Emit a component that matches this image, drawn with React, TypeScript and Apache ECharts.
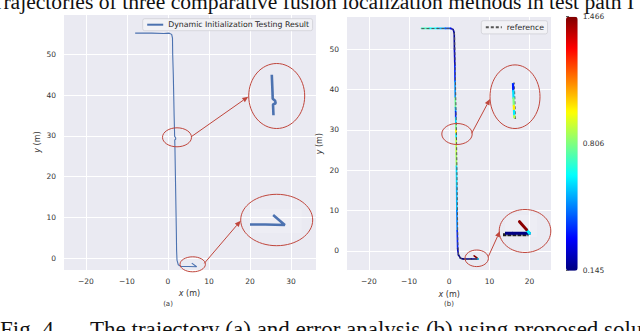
import React, { useEffect, useRef } from "react";
import * as echarts from "echarts";

// ---- data ----
// (a) dynamic initialization trajectory [x, y] in metres
const trajA: number[][] = [
  [-8.0, 55.2], [-4.0, 55.2], [-1.0, 55.1], [0.3, 55.2], [0.9, 54.9], [1.1, 54.0],
  [1.15, 50.0], [1.3, 45.0], [1.4, 40.0], [1.5, 35.0], [1.6, 31.0], [1.62, 29.9],
  [1.85, 29.6], [1.9, 29.2], [1.65, 29.0], [1.7, 27.0], [1.75, 24.0], [1.85, 18.0],
  [1.95, 12.0], [2.05, 6.0], [2.1, 2.0], [2.2, -0.5], [2.5, -1.6], [3.2, -2.05],
  [5.0, -2.05], [7.0, -2.1], [5.8, -1.2],
];
// (b) estimated trajectory [x, y, error]
const estB: number[][] = [
  [-6.9, 55.1, 0.72], [-5.0, 55.1, 0.65], [-3.0, 55.1, 0.55], [-1.0, 55.1, 0.42],
  [0.4, 55.1, 0.3], [1.0, 54.8, 0.2], [1.25, 54.0, 0.18], [1.3, 50.0, 0.25],
  [1.4, 46.0, 0.35], [1.45, 42.0, 0.5], [1.5, 38.0, 0.78], [1.55, 35.5, 0.55],
  [1.6, 34.5, 0.35], [1.62, 33.0, 0.6], [1.65, 31.5, 0.8], [1.68, 30.0, 0.99],
  [1.7, 29.0, 0.62], [1.72, 28.0, 0.88], [1.75, 24.0, 0.85], [1.8, 21.0, 0.6],
  [1.85, 16.0, 0.55], [1.9, 10.0, 0.48], [2.0, 5.0, 0.35], [2.1, 0.5, 0.22],
  [2.3, -1.0, 0.15], [2.8, -1.8, 0.15], [3.5, -2.0, 0.15], [5.5, -2.0, 0.15],
  [7.2, -2.0, 0.62], [6.9, -1.75, 1.45], [6.2, -1.2, 1.45],
];
// (b) reference trajectory [x, y]
const refB: number[][] = [
  [-6.9, 55.05], [0.6, 55.1], [1.1, 54.7], [1.35, 53.5], [1.45, 48.0], [1.6, 40.0],
  [1.75, 32.0], [1.85, 26.0], [1.95, 18.0], [2.05, 10.0], [2.15, 2.0], [2.3, -0.8],
  [2.8, -1.85], [3.5, -2.1], [7.1, -2.1],
];
const errMin = 0.145;
const errMax = 1.466;
const colorbarTicks = [0.145, 0.806, 1.466];
const jet = ["#00007f", "#0000ff", "#007fff", "#00ffff", "#7fff7f", "#ffff00", "#ff7f00", "#ff0000", "#7f0000"];

const captionTop = "Trajectories of three comparative fusion localization methods in test path I";
const captionFig = "Fig. 4.";
const captionBody = "The trajectory (a) and error analysis (b) using proposed solution";

// ---- styling ----
const BG = "#eaeaf2";
const RED = "#c0463c";
const TXT = "#333";
const FONT = "DejaVu Sans";
const SERIF = "Liberation Serif";
const minus = (v: number) => String(v).replace("-", "\u2212");

const mainAxis = (gi: number, min: number, max: number, isX: boolean, nameGap: number, margin: number) => ({
  gridIndex: gi,
  type: "value",
  min,
  max,
  minInterval: 10,
  maxInterval: 10,
  axisLine: { show: false },
  axisTick: { show: false },
  splitLine: { show: true, lineStyle: { color: "#ffffff", width: 1 } },
  axisLabel: {
    margin,
    fontSize: 7.5,
    color: TXT,
    fontFamily: FONT,
    showMinLabel: false,
    showMaxLabel: false,
    formatter: minus,
  },
  name: isX ? "{i|x} (m)" : "{i|y} (m)",
  nameLocation: "middle",
  nameGap,
  nameTextStyle: {
    fontSize: 8,
    color: TXT,
    fontFamily: FONT,
    rich: { i: { fontStyle: "italic", fontSize: 8, color: TXT, fontFamily: FONT } },
  },
});

const hiddenAxis = (gi: number, min: number, max: number) => ({
  gridIndex: gi,
  type: "value",
  min,
  max,
  show: false,
  splitLine: { show: false },
});

const segRender = (data: number[][], lw: number) => (params: any, api: any) => {
  const i = params.dataIndex;
  if (i >= data.length - 1) return null;
  const p1 = api.coord([data[i][0], data[i][1]]);
  const p2 = api.coord([data[i + 1][0], data[i + 1][1]]);
  const cs = params.coordSys;
  return {
    type: "line",
    shape: { x1: p1[0], y1: p1[1], x2: p2[0], y2: p2[1] },
    style: { stroke: api.visual("color"), lineWidth: lw, lineCap: "round" },
    clipPath: { type: "rect", shape: { x: cs.x, y: cs.y, width: cs.width, height: cs.height } },
  };
};

function arrow(x1: number, y1: number, x2: number, y2: number) {
  const a = Math.atan2(y2 - y1, x2 - x1);
  const L = 6;
  const w = 2.6;
  const bx = x2 - L * Math.cos(a);
  const by = y2 - L * Math.sin(a);
  const nx = -Math.sin(a);
  const ny = Math.cos(a);
  return [
    { type: "line", z: 100, shape: { x1, y1, x2: bx, y2: by }, style: { stroke: RED, lineWidth: 1 } },
    {
      type: "polygon",
      z: 100,
      shape: { points: [[x2, y2], [bx + nx * w, by + ny * w], [bx - nx * w, by - ny * w]] },
      style: { fill: RED },
    },
  ];
}
const ell = (cx: number, cy: number, rx: number, ry: number) => ({
  type: "ellipse",
  z: 100,
  shape: { cx, cy, rx, ry },
  style: { fill: "none", stroke: RED, lineWidth: 1 },
});
const caption = (text: string, x: number, y: number, size: number) => ({
  type: "text",
  x,
  y,
  style: { text, fontSize: size, fontFamily: SERIF, fill: "#111", verticalAlign: "middle", align: "left" },
});

export default function App() {
  const ref = useRef<HTMLDivElement>(null);
  useEffect(() => {
    if (!ref.current) return;
    const chart = echarts.init(ref.current, null, { renderer: "svg", width: 640, height: 331 });
    const legendCommon = {
      orient: "horizontal",
      itemHeight: 8,
      itemGap: 0,
      backgroundColor: "#f2f2f6",
      borderColor: "#cfcfd6",
      borderWidth: 0.8,
      borderRadius: 2,
      selectedMode: false,
      itemStyle: { opacity: 0 },
      textStyle: { fontSize: 7.8, color: "#262626", fontFamily: FONT },
    };
    const option: any = {
      animation: false,
      backgroundColor: "#ffffff",
      grid: [
        { left: 63, top: 14, width: 253, height: 256, show: true, backgroundColor: BG, borderWidth: 0 },
        { left: 346.7, top: 16.7, width: 205, height: 254, show: true, backgroundColor: BG, borderWidth: 0 },
        { left: 566, top: 16.7, width: 11.7, height: 254, show: false },
        { left: 262, top: 76, width: 21, height: 38, show: false },
        { left: 251.7, top: 209, width: 50, height: 24, show: true, backgroundColor: "#ededf4", borderWidth: 0 },
        { left: 507, top: 83.3, width: 16, height: 35, show: false },
        { left: 505, top: 215, width: 32, height: 22, show: true, backgroundColor: "#ededf4", borderWidth: 0 },
      ],
      xAxis: [
        mainAxis(0, -25.6, 36.1, true, 19, 7),
        mainAxis(1, -25.5, 25.5, true, 19, 7),
        hiddenAxis(2, 0, 1),
        hiddenAxis(3, 0.6, 2.6),
        hiddenAxis(4, 3.6, 8.73),
        hiddenAxis(5, 1.0, 2.6),
        hiddenAxis(6, 4.75, 7.95),
      ],
      yAxis: [
        mainAxis(0, -2.9, 59.9, false, 22, 7),
        mainAxis(1, -4.9, 58, false, 23, 7.7),
        {
          gridIndex: 2,
          type: "value",
          position: "right",
          min: errMin,
          max: errMax,
          axisLine: { show: false },
          splitLine: { show: false },
          axisTick: {
            show: true,
            length: 3,
            customValues: colorbarTicks,
            lineStyle: { color: TXT, width: 0.8 },
          },
          axisLabel: {
            show: true,
            margin: 5,
            fontSize: 7.5,
            color: TXT,
            fontFamily: FONT,
            customValues: colorbarTicks,
            formatter: (v: number) => v.toFixed(3),
          },
        },
        hiddenAxis(3, 27.5, 33.5),
        hiddenAxis(4, -2.82, -0.66),
        hiddenAxis(5, 27.5, 34.5),
        hiddenAxis(6, -2.26, -0.74),
      ],
      visualMap: {
        type: "continuous",
        min: errMin,
        max: errMax,
        dimension: 2,
        seriesIndex: [3, 4, 5],
        inRange: { color: jet },
        left: 566,
        top: 16.7,
        itemWidth: 11.7,
        itemHeight: 254,
        padding: 0,
        calculable: false,
        hoverLink: false,
        orient: "vertical",
      },
      legend: [
        {
          ...legendCommon,
          data: ["Dynamic Initialization Testing Result"],
          left: 142.7,
          top: 18.7,
          padding: [2, 3.5],
          itemWidth: 16,
        },
        {
          ...legendCommon,
          data: ["reference"],
          left: 481.3,
          top: 20.7,
          padding: [2.6, 3.5],
          itemWidth: 16,
        },
      ],
      series: [
        {
          type: "line",
          name: "Dynamic Initialization Testing Result",
          xAxisIndex: 0,
          yAxisIndex: 0,
          data: trajA,
          symbol: "none",
          lineStyle: { color: "#4c72b0", width: 1.1 },
          itemStyle: { color: "#4c72b0" },
          z: 3,
        },
        {
          type: "line",
          name: "a-inset-top",
          xAxisIndex: 3,
          yAxisIndex: 3,
          data: trajA,
          symbol: "none",
          clip: true,
          lineStyle: { color: "#4c72b0", width: 2.6 },
          z: 3,
        },
        {
          type: "line",
          name: "a-inset-bottom",
          xAxisIndex: 4,
          yAxisIndex: 4,
          data: trajA,
          symbol: "none",
          clip: true,
          lineStyle: { color: "#4c72b0", width: 2.6 },
          z: 3,
        },
        {
          type: "custom",
          name: "estimate",
          xAxisIndex: 1,
          yAxisIndex: 1,
          data: estB,
          clip: true,
          renderItem: segRender(estB, 1.6),
          z: 3,
        },
        {
          type: "custom",
          name: "estimate-inset-top",
          xAxisIndex: 5,
          yAxisIndex: 5,
          data: estB,
          clip: true,
          renderItem: segRender(estB, 2.2),
          z: 4,
        },
        {
          type: "custom",
          name: "estimate-inset-bottom",
          xAxisIndex: 6,
          yAxisIndex: 6,
          data: estB,
          clip: true,
          renderItem: segRender(estB, 3),
          z: 4,
        },
        {
          type: "line",
          name: "reference",
          xAxisIndex: 1,
          yAxisIndex: 1,
          data: refB,
          symbol: "none",
          lineStyle: { color: "#555", width: 1, type: [3, 2] },
          itemStyle: { color: "#555" },
          z: 5,
        },
        {
          type: "line",
          name: "ref-inset-top",
          xAxisIndex: 5,
          yAxisIndex: 5,
          data: refB,
          symbol: "none",
          clip: true,
          lineStyle: { color: "#666", width: 1.6, type: [3, 2] },
          z: 3,
        },
        {
          type: "line",
          name: "ref-inset-bottom",
          xAxisIndex: 6,
          yAxisIndex: 6,
          data: refB,
          symbol: "none",
          clip: true,
          lineStyle: { color: "#222", width: 3, type: [4, 1] },
          z: 3,
        },
      ],
      graphic: [
        ell(177, 137.3, 14.5, 9.5),
        ell(276.7, 96, 28, 32.5),
        ...arrow(191.3, 136.7, 248.3, 96.7),
        ell(192.7, 264.3, 12.7, 7.5),
        ell(276.7, 220, 36, 25.7),
        ...arrow(204.3, 263.3, 240.7, 220.7),
        ell(457, 134, 15.2, 10.5),
        ell(515, 96.7, 25, 31.8),
        ...arrow(471.7, 133.3, 490, 99),
        ell(476.7, 258.3, 11.7, 8.3),
        ell(525, 231, 25.8, 21.5),
        ...arrow(488.3, 256.7, 500, 231),
        caption(captionTop, -9, 1.6, 21.6),
        caption(captionFig, 0, 329.4, 23),
        caption(captionBody, 90, 329.4, 23),
        {
          type: "text",
          x: 168,
          y: 303.5,
          style: { text: "(a)", fontSize: 7, fontFamily: FONT, fill: TXT, verticalAlign: "middle", align: "center" },
        },
        {
          type: "text",
          x: 449,
          y: 304,
          style: { text: "(b)", fontSize: 7, fontFamily: FONT, fill: TXT, verticalAlign: "middle", align: "center" },
        },
      ],
    };
    chart.setOption(option);
    return () => chart.dispose();
  }, []);
  return (
    <div
      ref={ref}
      style={{ position: "fixed", left: 0, top: 0, width: 640, height: 331, background: "#fff" }}
    />
  );
}
